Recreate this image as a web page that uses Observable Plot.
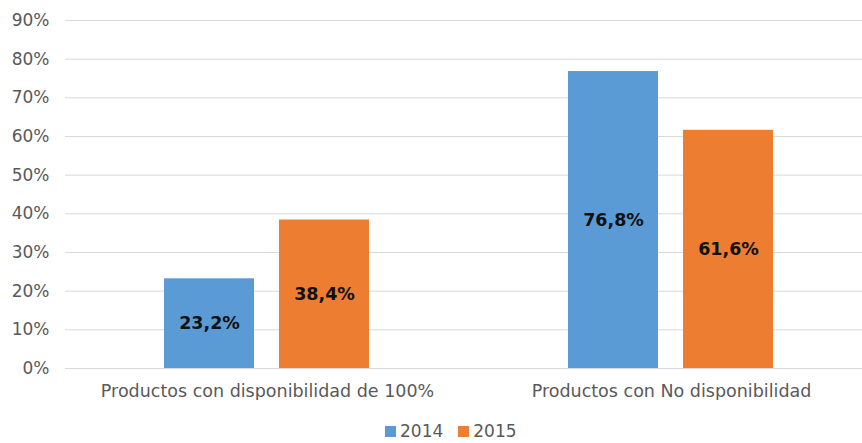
<!DOCTYPE html>
<html>
<head>
<meta charset="utf-8">
<script src="https://cdn.jsdelivr.net/npm/d3@7"></script>
<script src="https://cdn.jsdelivr.net/npm/@observablehq/plot@0.6"></script>
<style>
  html, body { margin: 0; padding: 0; background: white; overflow: hidden; }
  #wrap { width: 862px; overflow: hidden; }
  #legend { width: 862px; display: flex; justify-content: flex-start; padding-left: 385px; box-sizing: border-box; margin-top: 21px; }
  #legend span > svg { margin-right: 4px !important; }
  #legend span { margin-right: 15px !important; }
</style>
</head>
<body>
<div id="wrap"></div>
<div id="legend"></div>
<script>
const categories = ["Productos con disponibilidad de 100%", "Productos con No disponibilidad"];
const years = ["2014", "2015"];
const values2014 = [23.2, 76.8];
const values2015 = [38.4, 61.6];
const yTicks = [0, 10, 20, 30, 40, 50, 60, 70, 80, 90];
const colors = ["#5B9BD5", "#ED7D31"];

const data = categories.flatMap((c, i) => [
  {category: c, year: years[0], value: values2014[i]},
  {category: c, year: years[1], value: values2015[i]}
]);

const font = "Verdana, 'DejaVu Sans', sans-serif";

const chart = Plot.plot({
  width: 873,
  height: 400,
  marginLeft: 64,
  marginRight: 0,
  marginTop: 20,
  marginBottom: 32,
  style: {fontFamily: font, fontSize: "17px", color: "#595959", background: "white", maxWidth: "none", overflow: "visible"},
  fx: {domain: categories, paddingInner: 0, paddingOuter: 0, label: null, axis: null},
  x: {domain: years, paddingInner: 0.2165, paddingOuter: 0.859, axis: null},
  y: {domain: [0, 90], axis: null},
  color: {domain: years, range: colors},
  marks: [
    Plot.ruleY(yTicks, {stroke: "#D9D9D9", strokeWidth: 1}),
    Plot.axisY({ticks: yTicks, tickSize: 0, tickPadding: 16, tickFormat: d => d + "%", label: null, fill: "#595959", fontSize: 17}),
    Plot.axisFx({anchor: "bottom", tickSize: 0, tickPadding: 16, label: null, fill: "#595959", fontSize: 17.5}),
    Plot.barY(data, {fx: "category", x: "year", y: "value", fill: "year"}),
    Plot.text(data, {
      fx: "category", x: "year", y: d => d.value / 2,
      text: d => d.value.toFixed(1).replace(".", ",") + "%",
      fontWeight: "bold", fill: "#111", fontSize: 17.5
    })
  ]
});
document.getElementById("wrap").appendChild(chart);

const legend = Plot.legend({
  color: {domain: years, range: colors},
  legend: "swatches",
  swatchSize: 11,
  style: {fontFamily: font, fontSize: "17px", color: "#595959"}
});
legend.style.minHeight = "0";
document.getElementById("legend").appendChild(legend);
</script>
</body>
</html>
